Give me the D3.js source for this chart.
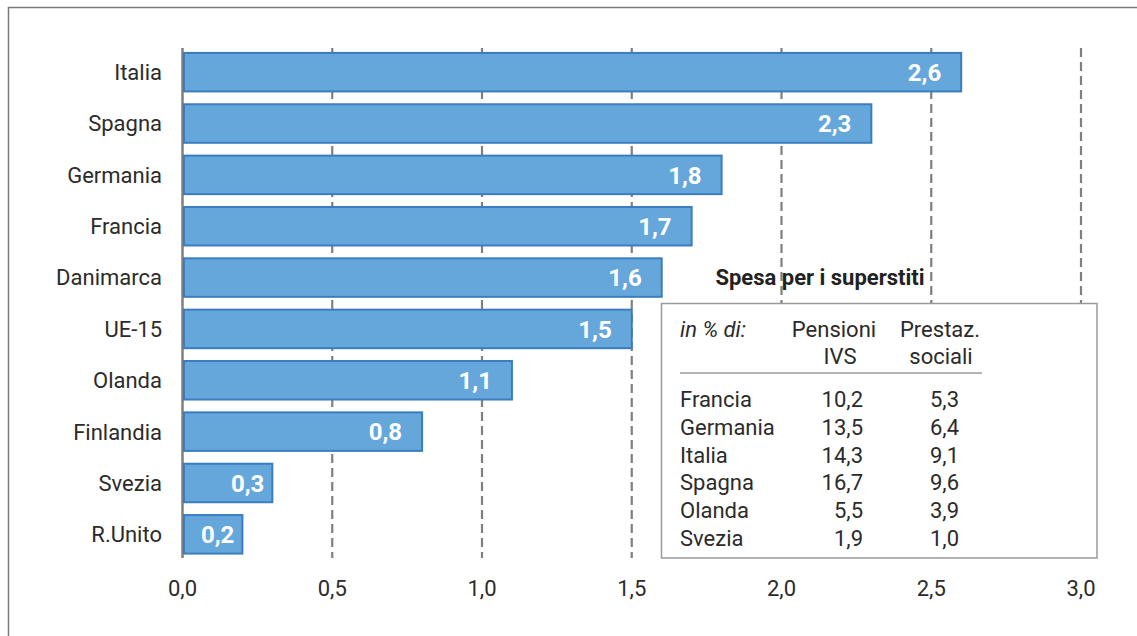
<!DOCTYPE html>
<html lang="it">
<head>
<meta charset="utf-8">
<script src="https://cdn.jsdelivr.net/npm/d3@7"></script>
<style>
  html, body { margin: 0; padding: 0; background: #fff; }
  svg { display: block; font-family: Roboto, "Noto Sans", sans-serif; }
</style>
</head>
<body>
<svg id="chart" width="1137" height="636"></svg>
<script>
// Spesa per superstiti, in % del PIL
const countries = ["Italia", "Spagna", "Germania", "Francia", "Danimarca", "UE-15", "Olanda", "Finlandia", "Svezia", "R.Unito"];
const values = [2.6, 2.3, 1.8, 1.7, 1.6, 1.5, 1.1, 0.8, 0.3, 0.2];
const xTicks = [0, 0.5, 1.0, 1.5, 2.0, 2.5, 3.0];

// Riquadro: spesa per i superstiti in % di pensioni IVS e prestazioni sociali
const tableCountries = ["Francia", "Germania", "Italia", "Spagna", "Olanda", "Svezia"];
const tablePensioni = [10.2, 13.5, 14.3, 16.7, 5.5, 1.9];
const tablePrestazioni = [5.3, 6.4, 9.1, 9.6, 3.9, 1.0];

const fmt = v => d3.format(".1f")(v).replace(".", ",");

const svg = d3.select("#chart");

// cornice esterna
svg.append("rect")
  .attr("x", 8.5).attr("y", 7.5)
  .attr("width", 1200).attr("height", 700)
  .attr("fill", "none").attr("stroke", "#7a7a7a").attr("stroke-width", 1.5);

const x = d3.scaleLinear().domain([0, 3]).range([182.5, 1081]);
const y = d3.scaleBand().domain(countries).range([46.5, 560]).paddingInner(0.25).paddingOuter(0.125);
const gridTop = 48, gridBottom = 558;

// griglia verticale tratteggiata
svg.append("g").selectAll("line")
  .data(xTicks.filter(t => t > 0))
  .join("line")
  .attr("x1", d => x(d)).attr("x2", d => x(d))
  .attr("y1", gridTop).attr("y2", gridBottom)
  .attr("stroke", "#7f7f7f").attr("stroke-width", 2.2)
  .attr("stroke-dasharray", "9,5");

// asse dello zero
svg.append("line")
  .attr("x1", x(0)).attr("x2", x(0))
  .attr("y1", gridTop).attr("y2", gridBottom)
  .attr("stroke", "#7f7f7f").attr("stroke-width", 2.5);

// barre
svg.append("g").selectAll("rect")
  .data(countries)
  .join("rect")
  .attr("x", x(0) + 1.5)
  .attr("y", d => y(d))
  .attr("width", (d, i) => x(values[i]) - x(0) - 1.5)
  .attr("height", y.bandwidth())
  .attr("fill", "#65a7db")
  .attr("stroke", "#3a7dc0")
  .attr("stroke-width", 2);

// etichette dei valori
svg.append("g").selectAll("text")
  .data(countries)
  .join("text")
  .attr("x", (d, i) => x(values[i]) - (values[i] < 0.5 ? 8 : 20))
  .attr("y", d => y(d) + y.bandwidth() / 2)
  .attr("dy", "0.36em")
  .attr("text-anchor", "end")
  .attr("fill", "#fff")
  .attr("font-weight", 700)
  .attr("font-size", 24)
  .text((d, i) => fmt(values[i]));

// nomi dei paesi
svg.append("g").selectAll("text")
  .data(countries)
  .join("text")
  .attr("x", 162)
  .attr("y", d => y(d) + y.bandwidth() / 2)
  .attr("dy", "0.36em")
  .attr("text-anchor", "end")
  .attr("fill", "#2b2b2b")
  .attr("font-size", 22)
  .text(d => d);

// etichette asse x
svg.append("g").selectAll("text")
  .data(xTicks)
  .join("text")
  .attr("x", d => x(d))
  .attr("y", 596)
  .attr("text-anchor", "middle")
  .attr("fill", "#2b2b2b")
  .attr("font-size", 22)
  .text(d => fmt(d));

// riquadro con la tabella
const box = svg.append("g");
box.append("text")
  .attr("x", 820).attr("y", 285)
  .attr("text-anchor", "middle")
  .attr("font-weight", 700).attr("font-size", 22)
  .attr("fill", "#222")
  .text("Spesa per i superstiti");

box.append("rect")
  .attr("x", 661.5).attr("y", 303.5)
  .attr("width", 435.5).attr("height", 254.5)
  .attr("fill", "#fff").attr("stroke", "#9a9a9a").attr("stroke-width", 1.5);

box.append("text")
  .attr("x", 680).attr("y", 337)
  .attr("font-style", "italic").attr("font-size", 22).attr("fill", "#2b2b2b")
  .text("in % di:");

const headers = [
  { text: "Pensioni", x: 834, y: 337 },
  { text: "IVS", x: 840, y: 364 },
  { text: "Prestaz.", x: 940, y: 337 },
  { text: "sociali", x: 941, y: 364 }
];
box.append("g").selectAll("text")
  .data(headers)
  .join("text")
  .attr("x", d => d.x).attr("y", d => d.y)
  .attr("text-anchor", "middle")
  .attr("font-size", 22).attr("fill", "#2b2b2b")
  .text(d => d.text);

box.append("line")
  .attr("x1", 680).attr("x2", 982)
  .attr("y1", 373).attr("y2", 373)
  .attr("stroke", "#9a9a9a").attr("stroke-width", 1.5);

const rowY = d3.scalePoint().domain(tableCountries).range([399, 538]);
const rows = box.append("g").selectAll("g")
  .data(tableCountries)
  .join("g")
  .attr("transform", d => `translate(0,${rowY(d)})`)
  .attr("font-size", 22).attr("fill", "#2b2b2b");

rows.append("text")
  .attr("x", 680).attr("dy", "0.36em")
  .text(d => d);
rows.append("text")
  .attr("x", 863).attr("dy", "0.36em").attr("text-anchor", "end")
  .text((d, i) => fmt(tablePensioni[i]));
rows.append("text")
  .attr("x", 959).attr("dy", "0.36em").attr("text-anchor", "end")
  .text((d, i) => fmt(tablePrestazioni[i]));
</script>
</body>
</html>
